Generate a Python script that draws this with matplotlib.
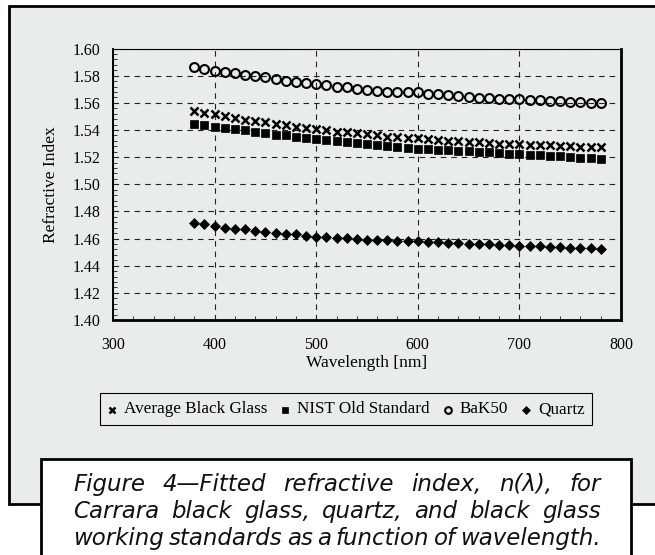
import matplotlib
matplotlib.use('Agg')
import matplotlib.pyplot as plt
from matplotlib.patches import Rectangle
from matplotlib.legend_handler import HandlerLine2D
from matplotlib.lines import Line2D
from matplotlib.ticker import MultipleLocator
import numpy as np

# ---------------- data ----------------
wavelength = [380, 390, 400, 410, 420, 430, 440, 450, 460, 470,
              480, 490, 500, 510, 520, 530, 540, 550, 560, 570,
              580, 590, 600, 610, 620, 630, 640, 650, 660, 670,
              680, 690, 700, 710, 720, 730, 740, 750, 760, 770, 780]

average_black_glass = [1.5537, 1.5525, 1.5517, 1.5504, 1.5487, 1.5476, 1.5464, 1.5455, 1.5445, 1.5435,
                       1.5425, 1.5415, 1.5405, 1.5396, 1.5388, 1.5382, 1.5376, 1.5370, 1.5362, 1.5350,
                       1.5345, 1.5340, 1.5338, 1.5330, 1.5328, 1.5322, 1.5318, 1.5310, 1.5309, 1.5303,
                       1.5300, 1.5298, 1.5295, 1.5290, 1.5289, 1.5286, 1.5283, 1.5281, 1.5278, 1.5276, 1.5273]

nist_old_standard = [1.5443, 1.5435, 1.5422, 1.5413, 1.5405, 1.5398, 1.5385, 1.5377, 1.5362, 1.5360,
                     1.5351, 1.5343, 1.5336, 1.5323, 1.5322, 1.5312, 1.5306, 1.5300, 1.5288, 1.5280,
                     1.5276, 1.5268, 1.5262, 1.5258, 1.5255, 1.5252, 1.5248, 1.5243, 1.5240, 1.5235,
                     1.5231, 1.5226, 1.5222, 1.5219, 1.5216, 1.5210, 1.5207, 1.5203, 1.5195, 1.5190, 1.5183]

bak50 = [1.5863, 1.5848, 1.5837, 1.5828, 1.5818, 1.5807, 1.5800, 1.5788, 1.5775, 1.5762,
         1.5750, 1.5748, 1.5740, 1.5730, 1.5720, 1.5717, 1.5703, 1.5696, 1.5688, 1.5683,
         1.5678, 1.5678, 1.5676, 1.5668, 1.5663, 1.5656, 1.5651, 1.5644, 1.5639, 1.5634,
         1.5631, 1.5627, 1.5626, 1.5622, 1.5618, 1.5612, 1.5610, 1.5605, 1.5603, 1.5602, 1.5600]

quartz = [1.4713, 1.4705, 1.4694, 1.4680, 1.4674, 1.4668, 1.4655, 1.4649, 1.4642, 1.4635,
          1.4632, 1.4622, 1.4615, 1.4612, 1.4607, 1.4602, 1.4599, 1.4593, 1.4590, 1.4588,
          1.4584, 1.4581, 1.4579, 1.4574, 1.4572, 1.4570, 1.4566, 1.4563, 1.4560, 1.4557,
          1.4554, 1.4551, 1.4547, 1.4546, 1.4542, 1.4538, 1.4535, 1.4531, 1.4530, 1.4528, 1.4522]

series_labels = ['Average Black Glass', 'NIST Old Standard', 'BaK50', 'Quartz']
x_ticks = [300, 400, 500, 600, 700, 800]
y_ticks = [1.40, 1.42, 1.44, 1.46, 1.48, 1.50, 1.52, 1.54, 1.56, 1.58, 1.60]
x_label = 'Wavelength [nm]'
y_label = 'Refractive Index'
caption_lines = ['Figure 4\u2014Fitted refractive index, n(\u03bb), for',
                 'Carrara black glass, quartz, and black glass',
                 'working standards as a function of wavelength.']

# ---------------- figure ----------------
W, H = 655, 555
BG = '#e8edeb'
SERIF = 'Liberation Serif'

fig = plt.figure(figsize=(W / 100, H / 100), dpi=100)
fig.patch.set_facecolor('white')


def fx(px):
    return px / W


def fy(py):
    return (H - py) / H


# background panel with thick border
panel = Rectangle((fx(8.7), fy(504)), 1.2, fy(6) - fy(504), transform=fig.transFigure,
                  facecolor=BG, edgecolor='black', linewidth=2.0, zorder=-5)
fig.add_artist(panel)

# caption box
cap = Rectangle((fx(40.7), fy(620)), fx(630.5) - fx(40.7), fy(459) - fy(620),
                transform=fig.transFigure, facecolor='white', edgecolor='black',
                linewidth=2.0, zorder=2)
fig.add_artist(cap)

ax = fig.add_axes([fx(113), fy(320), fx(621) - fx(113), fy(48.5) - fy(320)])
ax.set_facecolor(BG)

styles = [
    dict(marker='x', ms=6.0, mew=1.8, mfc='black', mec='black'),
    dict(marker='s', ms=6.4, mew=0.5, mfc='black', mec='black'),
    dict(marker='o', ms=6.4, mew=1.5, mfc='none', mec='black'),
    dict(marker='D', ms=5.0, mew=0.5, mfc='black', mec='black'),
]
all_series = [average_black_glass, nist_old_standard, bak50, quartz]
handles = []
for vals, lab, st in zip(all_series, series_labels, styles):
    h, = ax.plot(wavelength, vals, linestyle='none', color='black', label=lab, zorder=3, **st)
    handles.append(h)

ax.set_xlim(300, 800)
ax.set_ylim(1.40, 1.60)
ax.set_xticks(x_ticks)
ax.set_yticks(y_ticks)
ax.set_yticklabels([f'{v:.2f}' for v in y_ticks])
ax.xaxis.set_minor_locator(MultipleLocator(20))
ax.yaxis.set_minor_locator(MultipleLocator(0.004))
ax.tick_params(which='major', direction='in', length=0, labelsize=11.5, pad=9)
ax.tick_params(axis='x', which='major', pad=12)
ax.tick_params(which='minor', direction='in', length=3, width=0.7, color='#333333')
for lab in ax.get_xticklabels() + ax.get_yticklabels():
    lab.set_fontfamily(SERIF)

ax.grid(True, which='major', color='#222222', linewidth=0.8, linestyle=(0, (5, 4.5)))
ax.set_axisbelow(True)

for side, lw in [('left', 1.4), ('bottom', 2.0), ('right', 2.0), ('top', 0.8)]:
    ax.spines[side].set_linewidth(lw)
    ax.spines[side].set_color('black')

ax.set_xlabel(x_label, fontfamily=SERIF, fontsize=12.5, labelpad=2)
ax.set_ylabel(y_label, fontfamily=SERIF, fontsize=12.5, labelpad=10)


class LowHandler(HandlerLine2D):
    def create_artists(self, legend, orig_handle, xdescent, ydescent, width, height,
                       fontsize, trans):
        arts = super().create_artists(legend, orig_handle, xdescent, ydescent, width,
                                      height, fontsize, trans)
        for a in arts:
            a.set_ydata(np.asarray(a.get_ydata(), dtype=float) - 0.28 * height)
        return arts


leg = fig.legend(handles, series_labels, loc='center',
                 bbox_to_anchor=(fx(346), fy(409)), ncol=4, frameon=True,
                 fancybox=False, edgecolor='black', facecolor=BG, framealpha=1,
                 prop={'family': SERIF, 'size': 12.3}, handlelength=0.5,
                 handletextpad=0.45, columnspacing=0.8, borderpad=0.45,
                 borderaxespad=0, markerscale=0.75,
                 handler_map={Line2D: LowHandler(numpoints=1)})
leg.get_frame().set_linewidth(0.8)

# caption text, justified
renderer = fig.canvas.get_renderer()
cap_font = dict(family='DejaVu Sans', style='oblique', size=16.5, color='#111111', zorder=3)
baselines = [491, 518, 545]
x0, x1 = 73, 601
for line, yb in zip(caption_lines, baselines):
    words = line.split(' ')
    texts = [fig.text(0, 0, w, va='baseline', ha='left', **cap_font) for w in words]
    widths = [t.get_window_extent(renderer).width for t in texts]
    gap = (x1 - x0 - sum(widths)) / (len(words) - 1)
    gap = max(gap, 1.0)
    x = x0
    for t, w in zip(texts, widths):
        t.set_position((fx(x), fy(yb)))
        x += w + gap

fig.savefig('out.png', dpi=100, facecolor='white')
